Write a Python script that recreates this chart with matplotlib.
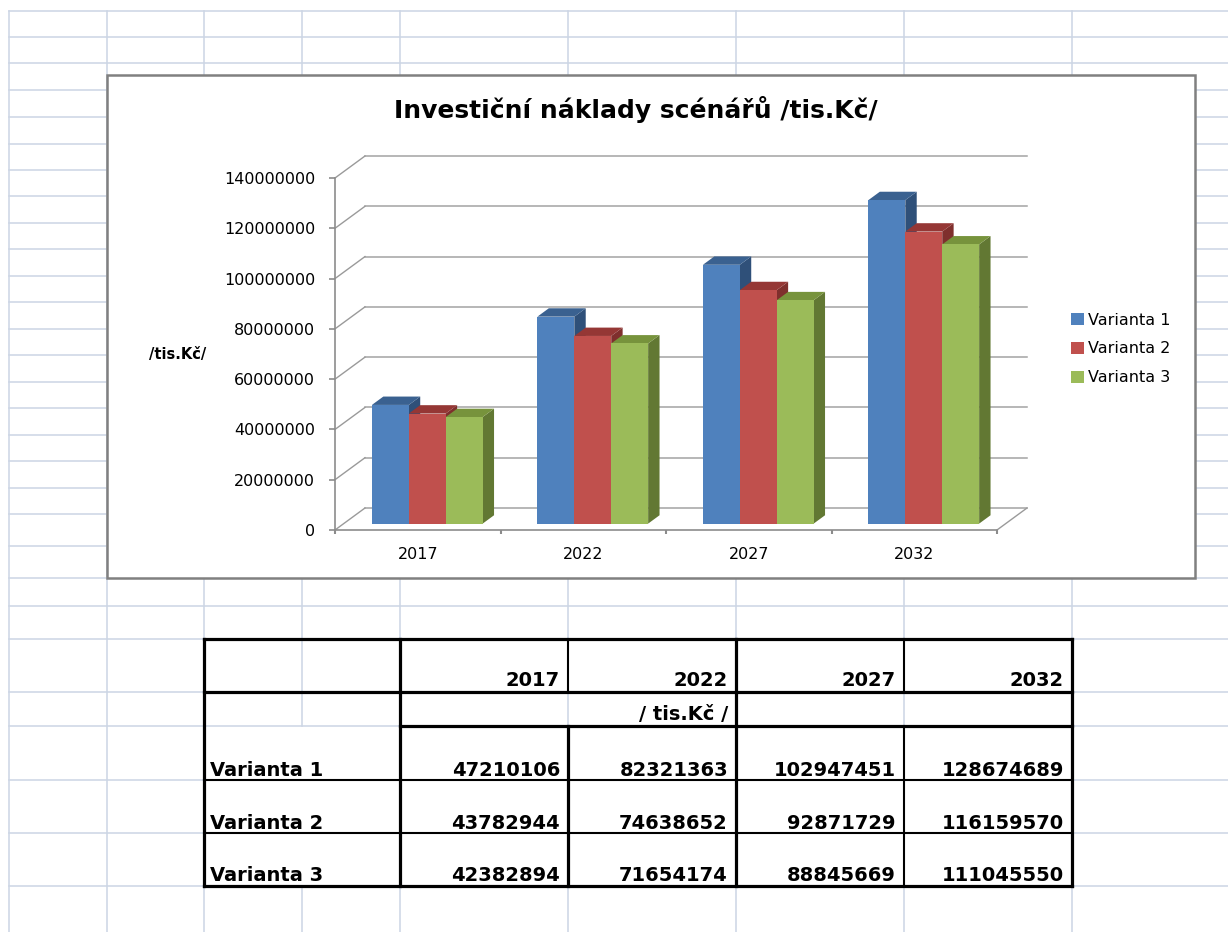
import numpy as np
import matplotlib
matplotlib.use("Agg")
import matplotlib.pyplot as plt
from matplotlib.patches import Polygon, Rectangle, Patch

# data
years = ["2017", "2022", "2027", "2032"]
series_names = ["Varianta 1", "Varianta 2", "Varianta 3"]
varianta_1 = [47210106, 82321363, 102947451, 128674689]
varianta_2 = [43782944, 74638652, 92871729, 116159570]
varianta_3 = [42382894, 71654174, 88845669, 111045550]
y_ticks = [0, 20000000, 40000000, 60000000, 80000000, 100000000, 120000000, 140000000]

title = "Investiční náklady scénářů /tis.Kč/"
unit_label = "/tis.Kč/"
table_unit = "/ tis.Kč /"

# colours: front, top, side
fronts = ["#4f81bd", "#c0504d", "#9bbb59"]
tops = ["#3a6190", "#953735", "#77933c"]
sides = ["#2f5079", "#7f2f2d", "#627833"]
grid_col = "#ccd5e4"

W, H = 1228, 932
fig = plt.figure(figsize=(W / 100, H / 100), dpi=100)

# spreadsheet background
bg = fig.add_axes([0, 0, 1, 1])
bg.set_xlim(0, W)
bg.set_ylim(H, 0)
bg.axis("off")

cols = [9, 107, 204, 302, 400, 568, 736, 904, 1072]
rows = [11, 37, 63, 90, 117, 144, 170, 196, 223, 249, 276, 302, 329, 355, 382,
        408, 435, 461, 488, 514, 546, 578, 606, 639, 692, 726, 780, 833, 886]

for y in rows:
    bg.plot([9, W], [y, y], color=grid_col, lw=1.1, zorder=1)
for x in cols:
    if x == 302:
        bg.plot([x, x], [11, 726], color=grid_col, lw=1.1, zorder=1)
        bg.plot([x, x], [886, H], color=grid_col, lw=1.1, zorder=1)
    else:
        bg.plot([x, x], [11, H], color=grid_col, lw=1.1, zorder=1)

# chart box
bg.add_patch(Rectangle((107, 75), 1088, 503, facecolor="white", edgecolor="#808080",
                       lw=1.8, zorder=3))

# table borders
thick, med = 2.3, 1.5
def hline(y, x0, x1, lw):
    bg.plot([x0, x1], [y, y], color="black", lw=lw, zorder=5, solid_capstyle="projecting")
def vline(x, y0, y1, lw):
    bg.plot([x, x], [y0, y1], color="black", lw=lw, zorder=5, solid_capstyle="projecting")

hline(639, 204, 1072, thick)
hline(692, 204, 1072, thick)
hline(726, 400, 1072, thick)
hline(780, 204, 1072, med)
hline(833, 204, 1072, med)
hline(886, 204, 1072, thick)
vline(204, 639, 886, thick)
vline(400, 639, 886, thick)
vline(568, 639, 692, med)
vline(568, 726, 886, thick)
vline(736, 639, 886, thick)
vline(904, 639, 692, med)
vline(904, 726, 886, med)
vline(1072, 639, 886, thick)

tfont = dict(family="DejaVu Sans", fontweight="bold", fontsize=14, zorder=6)
col_right = [568, 736, 904, 1072]
for k, yr in enumerate(years):
    bg.text(col_right[k] - 8, 686, yr, ha="right", va="baseline", **tfont)
bg.text(728, 720, table_unit, ha="right", va="baseline", **tfont)
row_base = [776, 829, 881]
for r, (name, vals) in enumerate(zip(series_names, [varianta_1, varianta_2, varianta_3])):
    bg.text(210, row_base[r], name, ha="left", va="baseline", **tfont)
    for k, v in enumerate(vals):
        bg.text(col_right[k] - 8, row_base[r], str(v), ha="right", va="baseline", **tfont)

# chart axes (front plane)
ax_l, ax_r, ax_b, ax_t = 335, 997, 530, 178
ax = fig.add_axes([ax_l / W, 1 - ax_b / H, (ax_r - ax_l) / W, (ax_b - ax_t) / H])
ax.patch.set_visible(False)
ax.set_xlim(0, len(years))
ax.set_ylim(0, y_ticks[-1])

# depth of the 3d box in data units
DX = 30 / ((ax_r - ax_l) / len(years))
DY = 22 * y_ticks[-1] / (ax_b - ax_t)
wall = "#a3a3a3"
n = len(years)
for v in y_ticks:
    ax.plot([DX, n + DX], [v + DY, v + DY], color=wall, lw=1.1, clip_on=False, zorder=1)
    ax.plot([0, DX], [v, v + DY], color="#9a9a9a", lw=1.0, clip_on=False, zorder=1)
ax.plot([n, n + DX], [0, DY], color="#9a9a9a", lw=1.0, clip_on=False, zorder=1)

values = [varianta_1, varianta_2, varianta_3]
bw = 0.223
start = 0.5 - 1.5 * bw + 0.005
f0, f1 = 0.29, 0.67

def p(x, y, f):
    return (x + f * DX, y + f * DY)

for i in range(n):
    for j in range(3):
        x0 = i + start + j * bw
        v = values[j][i]
        side = [p(x0 + bw, 0, f0), p(x0 + bw, 0, f1), p(x0 + bw, v, f1), p(x0 + bw, v, f0)]
        top = [p(x0, v, f0), p(x0 + bw, v, f0), p(x0 + bw, v, f1), p(x0, v, f1)]
        front = [p(x0, 0, f0), p(x0 + bw, 0, f0), p(x0 + bw, v, f0), p(x0, v, f0)]
        ax.add_patch(Polygon(side, closed=True, facecolor=sides[j], lw=0, clip_on=False, zorder=3))
        ax.add_patch(Polygon(top, closed=True, facecolor=tops[j], lw=0, clip_on=False, zorder=3))
        ax.add_patch(Polygon(front, closed=True, facecolor=fronts[j], lw=0, clip_on=False, zorder=3))

axis_col = "#8c8c8c"
for s in ["top", "right"]:
    ax.spines[s].set_visible(False)
ax.spines["left"].set_bounds(0, y_ticks[-1])
for s in ["left", "bottom"]:
    ax.spines[s].set_color(axis_col)
    ax.spines[s].set_linewidth(1.2)

ax.set_yticks(y_ticks)
ax.set_yticklabels([str(v) for v in y_ticks])
ax.tick_params(axis="y", length=4.3, width=1.2, color=axis_col, pad=10, labelsize=11.5)
ax.set_xticks(range(n + 1))
ax.set_xticklabels([])
ax.tick_params(axis="x", which="major", length=3, width=1.5, color=axis_col)
ax.set_xticks([i + 0.5 for i in range(n)], minor=True)
ax.set_xticklabels(years, minor=True)
ax.tick_params(axis="x", which="minor", length=0, pad=12, labelsize=11.5)

fig.text(636 / W, 1 - 118 / H, title, ha="center", va="baseline",
         fontsize=18, fontweight="bold", family="DejaVu Sans")
fig.text(178 / W, 1 - 355 / H, unit_label, ha="center", va="center",
         fontsize=10.5, fontweight="bold")

fig.legend(handles=[Patch(facecolor=c) for c in fronts], labels=series_names,
           loc="upper left", bbox_to_anchor=(1071 / W, 1 - 312.7 / H), frameon=False,
           fontsize=11.5, handlelength=0.8, handleheight=0.8, handletextpad=0.25,
           labelspacing=0.86, borderpad=0, borderaxespad=0)

fig.savefig("out.png", dpi=100)
